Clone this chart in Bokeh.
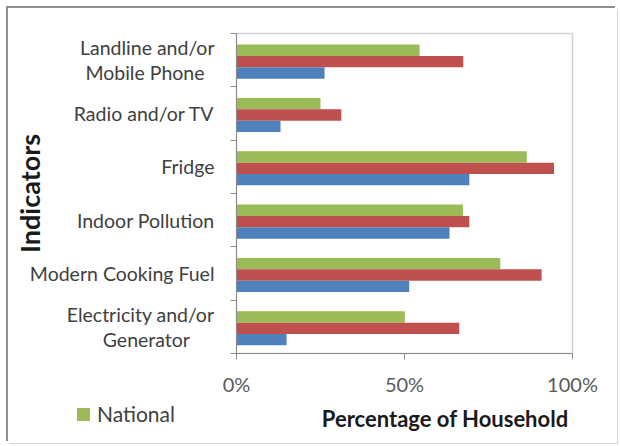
import math
from bokeh.plotting import figure
from bokeh.layouts import column
from bokeh.models import (Range1d, FixedTicker, ColumnDataSource, Div)
from bokeh.transform import dodge
from bokeh.embed import file_html
from bokeh.resources import INLINE

# ---- data (top to bottom as in the chart) ----
categories = ["Landline and/or\nMobile Phone", "Radio and/or TV", "Fridge",
              "Indoor Pollution", "Modern Cooking Fuel", "Electricity and/or\nGenerator"]
national = [0.545, 0.25, 0.864, 0.674, 0.785, 0.501]
urban = [0.675, 0.312, 0.945, 0.693, 0.908, 0.663]
rural = [0.262, 0.131, 0.693, 0.634, 0.514, 0.149]
x_ticks = [0, 0.5, 1.0]
x_tick_labels = ["0%", "50%", "100%"]
x_title = "Percentage of Household"
y_title = "Indicators"
legend_label = "National"

FONT = "Lato"
GREEN, RED, BLUE = "#9BBB59", "#C0504D", "#4F81BD"
TXT = "#404040"

n = len(categories)
centers = [n - i - 0.5 for i in range(n)]   # slot centres, first category on top
bounds = list(range(n + 1))

src = ColumnDataSource(dict(pos=centers, cat=categories, national=national,
                            urban=urban, rural=rural))

W = 609
p = figure(width=W, height=392, output_backend="svg", toolbar_location=None,
           y_range=Range1d(0, n), x_range=Range1d(0, 1.0),
           min_border_left=228, min_border_right=45, min_border_top=25, min_border_bottom=47)
p.grid.visible = False
p.outline_line_color = "#d4d4d4"
p.outline_line_width = 1.5
p.background_fill_color = "white"
p.border_fill_color = "white"

bh = 0.213
shift = -0.028
p.hbar(y=dodge("pos", bh + shift), right="national", left=0, height=bh,
       source=src, fill_color=GREEN, line_color=None)
p.hbar(y=dodge("pos", shift), right="urban", left=0, height=bh,
       source=src, fill_color=RED, line_color=None)
p.hbar(y=dodge("pos", -bh + shift), right="rural", left=0, height=bh,
       source=src, fill_color=BLUE, line_color=None)

# x axis
xa = p.xaxis[0]
xa.ticker = FixedTicker(ticks=x_ticks)
xa.major_label_overrides = {t: l for t, l in zip(x_ticks, x_tick_labels)}
xa.minor_tick_line_color = None
xa.major_tick_out = 6
xa.major_tick_in = 0
xa.axis_line_color = "#8c8c8c"
xa.major_tick_line_color = "#8c8c8c"
xa.major_label_text_font = FONT
xa.major_label_text_font_size = "20px"
xa.major_label_text_color = "#595959"
xa.major_label_standoff = 12

# y axis: labels at slot centres, small ticks at slot boundaries
pad = {0: 2, 5: 5}   # centre the second line of two-line labels
def padded(i, s):
    if "\n" in s:
        a, b = s.split("\n")
        return a + "\n" + b + "\u00a0" * pad.get(i, 0)
    return s

ya = p.yaxis[0]
ya.ticker = FixedTicker(ticks=centers, minor_ticks=bounds)
ya.major_label_overrides = {c: padded(i, l) for i, (c, l) in enumerate(zip(centers, categories))}
ya.axis_line_color = "#8c8c8c"
ya.major_tick_line_color = None
ya.major_tick_out = 0
ya.major_tick_in = 0
ya.minor_tick_line_color = "#8c8c8c"
ya.minor_tick_out = 6
ya.minor_tick_in = 0
ya.major_label_text_font = FONT
ya.major_label_text_font_size = "19.5px"
ya.major_label_text_line_height = 1.1
ya.major_label_text_color = TXT
ya.major_label_standoff = 16
ya.axis_label = y_title
ya.axis_label_text_font = FONT
ya.axis_label_text_font_style = "bold"
ya.axis_label_text_font_size = "27px"
ya.axis_label_text_color = "#1a1a1a"
ya.axis_label_standoff = -19

# bottom strip: legend key + x title
html = (
    f'<div style="position:relative;width:{W}px;height:43px;font-family:{FONT};">'
    f'<span style="position:absolute;left:69px;top:8px;width:13px;height:13px;'
    f'background:{GREEN};"></span>'
    f'<span style="position:absolute;left:89px;top:3px;font-size:21px;line-height:21px;'
    f'color:{TXT};white-space:nowrap;">{legend_label}</span>'
    f'<span style="position:absolute;left:437px;top:8px;transform:translateX(-50%);'
    f'font-size:22px;line-height:22px;font-weight:bold;color:#1a1a1a;white-space:nowrap;">'
    f'{x_title}</span></div>'
)
strip = Div(text=html, width=W, height=43, margin=0,
            styles={"overflow": "visible", "background": "white"})

layout = column(p, strip, spacing=0)
layout.margin = (8, 3, 3, 8)
layout.styles = {"box-shadow": "-2px -2px 0 0 #8f8f8f, 1px 1px 0 0 #d6d6d6",
                 "background": "white"}

open("out.html", "w").write(file_html(layout, INLINE))
